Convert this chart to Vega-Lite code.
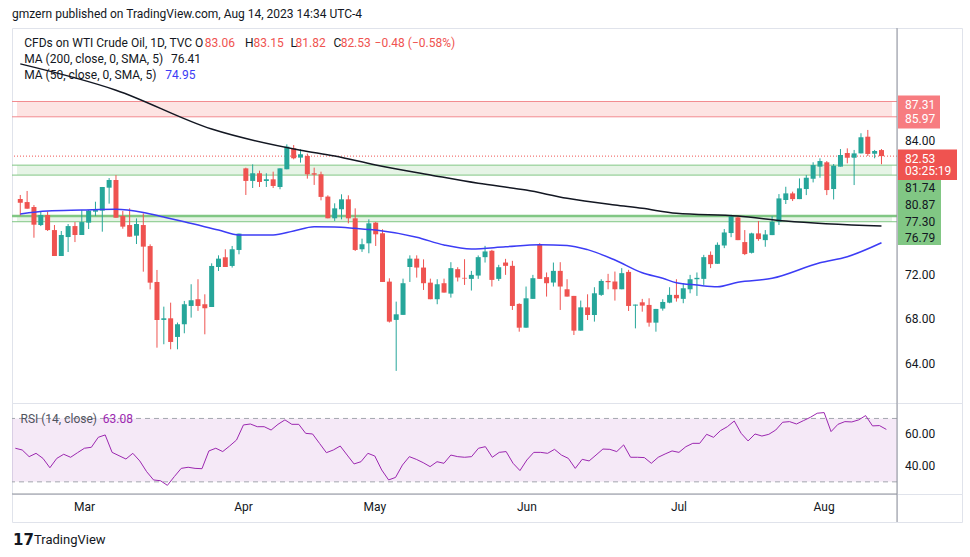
{
"$schema": "https://vega.github.io/schema/vega-lite/v6.json",
"background": "#ffffff",
"padding": {"left": 10, "right": 10, "top": 0, "bottom": 0},
"autosize": {"type": "pad"},
"columns": 2,
"spacing": 0,
"bounds": "flush",
"config": {"view": {"stroke": "#e0e3eb", "strokeWidth": 1}, "concat": {"spacing": 0}, "font": "Roboto", "text": {"font": "Roboto"}},
"datasets": {
"candles": [
{"i":1,"o":78.78,"h":79.13,"l":77.32,"c":78.45},{"i":2,"o":78.51,"h":79.48,"l":77.93,"c":77.93},{"i":3,"o":78.08,"h":78.25,"l":75.39,"c":76.53},{"i":4,"o":76.50,"h":77.73,"l":76.41,"c":77.38},{"i":5,"o":77.38,"h":77.67,"l":75.98,"c":76.06},{"i":6,"o":76.06,"h":76.50,"l":73.79,"c":73.79},{"i":7,"o":73.79,"h":75.98,"l":73.79,"c":75.63},{"i":8,"o":75.45,"h":76.59,"l":74.14,"c":76.41},{"i":9,"o":76.41,"h":76.76,"l":75.01,"c":75.63},{"i":10,"o":75.63,"h":77.81,"l":75.63,"c":76.76},
{"i":11,"o":76.71,"h":77.81,"l":76.15,"c":77.76},{"i":12,"o":77.67,"h":78.54,"l":77.29,"c":77.81},{"i":13,"o":77.76,"h":79.83,"l":75.92,"c":79.83},{"i":14,"o":79.77,"h":80.61,"l":78.37,"c":80.44},{"i":15,"o":80.44,"h":80.87,"l":77.14,"c":77.14},{"i":16,"o":77.29,"h":77.73,"l":76.18,"c":76.36},{"i":17,"o":76.50,"h":77.96,"l":75.48,"c":75.48},{"i":18,"o":75.57,"h":77.08,"l":74.84,"c":76.59},{"i":19,"o":76.50,"h":77.52,"l":72.42,"c":74.61},{"i":20,"o":74.66,"h":74.81,"l":70.87,"c":71.46},
{"i":21,"o":71.52,"h":72.57,"l":65.77,"c":68.19},{"i":22,"o":68.20,"h":69.36,"l":66.07,"c":68.34},{"i":23,"o":68.34,"h":69.71,"l":65.63,"c":66.27},{"i":24,"o":66.71,"h":67.97,"l":65.63,"c":67.82},{"i":25,"o":67.82,"h":69.86,"l":67.03,"c":69.57},{"i":26,"o":69.42,"h":71.32,"l":68.40,"c":69.92},{"i":27,"o":70.01,"h":71.76,"l":68.99,"c":69.42},{"i":28,"o":69.57,"h":70.44,"l":66.94,"c":69.22},{"i":29,"o":69.33,"h":73.15,"l":69.33,"c":72.92},{"i":30,"o":72.83,"h":73.85,"l":72.48,"c":73.56},
{"i":31,"o":73.68,"h":74.38,"l":72.83,"c":72.83},{"i":32,"o":72.92,"h":74.67,"l":72.78,"c":74.38},{"i":33,"o":74.32,"h":75.75,"l":73.94,"c":75.75},{"i":34,"o":81.46,"h":81.52,"l":79.13,"c":80.36},{"i":35,"o":80.36,"h":81.81,"l":79.74,"c":81.03},{"i":36,"o":81.03,"h":81.26,"l":79.83,"c":80.27},{"i":37,"o":80.36,"h":81.03,"l":79.83,"c":80.50},{"i":38,"o":80.50,"h":81.17,"l":79.74,"c":79.92},{"i":39,"o":79.83,"h":81.46,"l":79.63,"c":81.46},{"i":40,"o":81.38,"h":83.56,"l":81.38,"c":83.36},
{"i":41,"o":83.21,"h":83.50,"l":82.25,"c":82.34},{"i":42,"o":82.40,"h":83.13,"l":81.96,"c":82.69},{"i":43,"o":82.54,"h":82.75,"l":80.56,"c":80.94},{"i":44,"o":81.03,"h":81.52,"l":80.01,"c":80.91},{"i":45,"o":80.94,"h":81.17,"l":78.66,"c":78.96},{"i":46,"o":78.99,"h":79.10,"l":77.09,"c":77.09},{"i":47,"o":77.09,"h":78.40,"l":76.86,"c":77.96},{"i":48,"o":77.88,"h":79.19,"l":77.00,"c":78.75},{"i":49,"o":78.75,"h":79.10,"l":76.65,"c":77.09},{"i":50,"o":77.09,"h":77.96,"l":74.23,"c":74.32},
{"i":51,"o":74.38,"h":75.31,"l":74.15,"c":74.82},{"i":52,"o":74.90,"h":77.00,"l":74.03,"c":76.65},{"i":53,"o":76.71,"h":76.77,"l":74.67,"c":75.69},{"i":54,"o":75.78,"h":76.13,"l":71.52,"c":71.52},{"i":55,"o":71.55,"h":71.84,"l":67.97,"c":68.05},{"i":56,"o":68.20,"h":69.80,"l":63.74,"c":68.69},{"i":57,"o":68.64,"h":71.81,"l":68.64,"c":71.41},{"i":58,"o":72.83,"h":73.85,"l":71.52,"c":73.56},{"i":59,"o":73.56,"h":73.85,"l":71.90,"c":72.78},{"i":60,"o":72.78,"h":73.50,"l":70.82,"c":71.41},
{"i":61,"o":71.46,"h":71.81,"l":70.01,"c":70.01},{"i":62,"o":70.01,"h":71.76,"l":69.57,"c":71.32},{"i":63,"o":71.41,"h":71.81,"l":70.59,"c":70.59},{"i":64,"o":70.50,"h":73.25,"l":70.15,"c":72.73},{"i":65,"o":72.64,"h":72.81,"l":71.56,"c":71.91},{"i":66,"o":71.88,"h":73.51,"l":71.26,"c":71.82},{"i":67,"o":71.79,"h":72.49,"l":70.77,"c":72.14},{"i":68,"o":72.08,"h":73.84,"l":71.79,"c":73.69},{"i":69,"o":73.69,"h":74.68,"l":73.22,"c":74.19},{"i":70,"o":74.25,"h":74.33,"l":71.12,"c":71.70},
{"i":71,"o":71.79,"h":73.02,"l":71.61,"c":72.81},{"i":72,"o":73.22,"h":73.54,"l":72.14,"c":72.93},{"i":73,"o":72.93,"h":73.37,"l":69.07,"c":69.42},{"i":74,"o":69.60,"h":69.65,"l":67.17,"c":67.52},{"i":75,"o":67.52,"h":71.12,"l":67.52,"c":70.09},{"i":76,"o":70.04,"h":72.14,"l":70.04,"c":71.85},{"i":77,"o":74.77,"h":74.92,"l":71.79,"c":71.79},{"i":78,"o":71.94,"h":72.35,"l":70.24,"c":71.41},{"i":79,"o":71.47,"h":73.22,"l":71.12,"c":72.49},{"i":80,"o":72.49,"h":73.25,"l":69.07,"c":71.12},
{"i":81,"o":70.88,"h":71.76,"l":70.24,"c":70.24},{"i":82,"o":70.30,"h":70.30,"l":66.88,"c":67.26},{"i":83,"o":67.26,"h":69.89,"l":67.26,"c":69.30},{"i":84,"o":69.30,"h":70.44,"l":68.19,"c":68.63},{"i":85,"o":68.63,"h":71.06,"l":68.05,"c":70.53},{"i":86,"o":70.39,"h":71.76,"l":70.30,"c":71.61},{"i":87,"o":71.61,"h":72.23,"l":70.88,"c":71.50},{"i":88,"o":71.56,"h":72.43,"l":69.89,"c":70.88},{"i":89,"o":70.88,"h":72.73,"l":70.88,"c":72.29},{"i":90,"o":72.40,"h":72.58,"l":68.98,"c":69.42},
{"i":91,"o":69.45,"h":69.54,"l":67.46,"c":69.54},{"i":92,"o":69.74,"h":70.04,"l":68.92,"c":69.45},{"i":93,"o":69.51,"h":70.09,"l":67.61,"c":67.96},{"i":94,"o":67.96,"h":69.16,"l":67.17,"c":69.16},{"i":95,"o":69.19,"h":70.01,"l":69.01,"c":69.77},{"i":96,"o":69.71,"h":71.06,"l":69.66,"c":70.39},{"i":97,"o":70.39,"h":71.76,"l":69.80,"c":70.09},{"i":98,"o":70.04,"h":71.41,"l":69.66,"c":70.97},{"i":99,"o":70.88,"h":72.14,"l":70.53,"c":71.76},{"i":100,"o":71.76,"h":72.35,"l":70.30,"c":71.88},
{"i":101,"o":71.79,"h":73.89,"l":71.26,"c":73.69},{"i":102,"o":73.89,"h":74.19,"l":72.73,"c":73.08},{"i":103,"o":73.11,"h":74.98,"l":73.11,"c":74.77},{"i":104,"o":74.71,"h":76.15,"l":74.48,"c":75.85},{"i":105,"o":75.80,"h":77.40,"l":75.44,"c":77.26},{"i":106,"o":77.17,"h":77.28,"l":75.18,"c":75.18},{"i":107,"o":75.01,"h":76.06,"l":73.87,"c":73.96},{"i":108,"o":74.07,"h":75.83,"l":74.01,"c":75.77},{"i":109,"o":75.77,"h":76.85,"l":75.12,"c":75.27},{"i":110,"o":75.18,"h":76.06,"l":74.60,"c":75.68},
{"i":111,"o":75.62,"h":77.28,"l":75.62,"c":76.79},{"i":112,"o":76.79,"h":79.21,"l":76.50,"c":78.83},{"i":113,"o":78.69,"h":79.85,"l":78.34,"c":79.27},{"i":114,"o":79.27,"h":79.42,"l":78.60,"c":78.77},{"i":115,"o":78.77,"h":80.58,"l":78.77,"c":79.71},{"i":116,"o":79.65,"h":80.88,"l":79.12,"c":80.64},{"i":117,"o":80.55,"h":81.99,"l":80.23,"c":81.75},{"i":118,"o":81.61,"h":82.34,"l":80.64,"c":82.10},{"i":119,"o":81.99,"h":82.10,"l":79.12,"c":79.56},{"i":120,"o":79.65,"h":81.84,"l":78.74,"c":81.69},
{"i":121,"o":81.61,"h":83.15,"l":81.61,"c":82.63},{"i":122,"o":82.80,"h":83.21,"l":81.90,"c":82.39},{"i":123,"o":82.39,"h":83.07,"l":80.00,"c":82.77},{"i":124,"o":82.77,"h":84.53,"l":82.77,"c":84.18},{"i":125,"o":84.23,"h":84.82,"l":82.54,"c":82.72},{"i":126,"o":82.74,"h":83.07,"l":82.34,"c":82.98},{"i":127,"o":83.06,"h":83.15,"l":81.82,"c":82.53}
],
"ma200": [
{"i":1,"v":90.6},{"i":15,"v":88.3},{"i":29,"v":84.9},{"i":42,"v":83.05},{"i":47,"v":82.54},{"i":53,"v":81.75},{"i":61,"v":80.88},{"i":68,"v":80.15},{"i":75,"v":79.56},{"i":81,"v":78.84},{"i":88,"v":78.25},{"i":92,"v":77.96},{"i":97,"v":77.53},{"i":106,"v":77.29},{"i":113,"v":76.85},{"i":127,"v":76.41}
],
"ma50": [
{"i":1,"v":77.47},{"i":5,"v":77.73},{"i":10,"v":77.81},{"i":15,"v":77.88},{"i":19,"v":77.6},{"i":22,"v":77.2},{"i":25,"v":76.79},{"i":30,"v":76.06},{"i":33,"v":75.63},{"i":38,"v":75.63},{"i":41,"v":75.98},{"i":44,"v":76.35},{"i":47,"v":76.33},{"i":50,"v":76.21},{"i":53,"v":76.06},{"i":59,"v":75.43},{"i":63,"v":74.76},{"i":67,"v":74.41},{"i":72,"v":74.6},{"i":77,"v":74.78},{"i":81,"v":74.72},{"i":84,"v":74.35},{"i":88,"v":73.44},{"i":92,"v":72.33},{"i":95,"v":71.84},{"i":97,"v":71.45},{"i":100,"v":71.25},{"i":103,"v":71.1},{"i":106,"v":71.5},{"i":111,"v":71.84},{"i":118,"v":73.2},{"i":122,"v":73.73},{"i":127,"v":74.95}
],
"rsi": [
{"i":1,"r":51.2},{"i":2,"r":50.1},{"i":3,"r":45.9},{"i":4,"r":48},{"i":5,"r":44.8},{"i":6,"r":38.9},{"i":7,"r":44.8},{"i":8,"r":47.4},{"i":9,"r":45.5},{"i":10,"r":48.4},
{"i":11,"r":51.2},{"i":12,"r":51.8},{"i":13,"r":58.1},{"i":14,"r":59.6},{"i":15,"r":48.6},{"i":16,"r":46.5},{"i":17,"r":44.4},{"i":18,"r":48},{"i":19,"r":43.2},{"i":20,"r":36.4},
{"i":21,"r":31.2},{"i":22,"r":30.7},{"i":23,"r":27.8},{"i":24,"r":33.3},{"i":25,"r":38.5},{"i":26,"r":39.2},{"i":27,"r":38.5},{"i":28,"r":38.3},{"i":29,"r":49.5},{"i":30,"r":51.2},
{"i":31,"r":49.1},{"i":32,"r":52.6},{"i":33,"r":56.4},{"i":34,"r":65.9},{"i":35,"r":66.5},{"i":36,"r":64.8},{"i":37,"r":64.8},{"i":38,"r":62.7},{"i":39,"r":66.3},{"i":40,"r":69.1},
{"i":41,"r":66.3},{"i":42,"r":66.3},{"i":43,"r":60.6},{"i":44,"r":60.2},{"i":45,"r":54.3},{"i":46,"r":48.4},{"i":47,"r":50.1},{"i":48,"r":52.6},{"i":49,"r":46.9},{"i":50,"r":41.3},
{"i":51,"r":42.7},{"i":52,"r":48},{"i":53,"r":46.3},{"i":54,"r":37.5},{"i":55,"r":31.2},{"i":56,"r":32.8},{"i":57,"r":40.6},{"i":58,"r":45.9},{"i":59,"r":44.2},{"i":60,"r":42.1},
{"i":61,"r":39.6},{"i":62,"r":42.7},{"i":63,"r":41.7},{"i":64,"r":46.9},{"i":65,"r":45.9},{"i":66,"r":45.5},{"i":67,"r":45.9},{"i":68,"r":51.2},{"i":69,"r":52.2},{"i":70,"r":45.5},
{"i":71,"r":48.6},{"i":72,"r":49.1},{"i":73,"r":41.7},{"i":74,"r":37.1},{"i":75,"r":43.8},{"i":76,"r":48.6},{"i":77,"r":48.6},{"i":78,"r":48},{"i":79,"r":50.5},{"i":80,"r":46.9},
{"i":81,"r":44.8},{"i":82,"r":38.5},{"i":83,"r":44.2},{"i":84,"r":43.2},{"i":85,"r":46.9},{"i":86,"r":50.7},{"i":87,"r":50.5},{"i":88,"r":49.1},{"i":89,"r":53.3},{"i":90,"r":45.5},
{"i":91,"r":45.5},{"i":92,"r":45.3},{"i":93,"r":41.7},{"i":94,"r":45.5},{"i":95,"r":47.6},{"i":96,"r":49.5},{"i":97,"r":48.6},{"i":98,"r":52.2},{"i":99,"r":54.3},{"i":100,"r":54.3},
{"i":101,"r":60},{"i":102,"r":58.1},{"i":103,"r":62.3},{"i":104,"r":64.8},{"i":105,"r":68.4},{"i":106,"r":60.6},{"i":107,"r":55.8},{"i":108,"r":60.2},{"i":109,"r":58.9},{"i":110,"r":60},
{"i":111,"r":62.7},{"i":112,"r":67.6},{"i":113,"r":68},{"i":114,"r":66.5},{"i":115,"r":68.6},{"i":116,"r":70.7},{"i":117,"r":73.3},{"i":118,"r":73.7},{"i":119,"r":61.7},{"i":120,"r":66.3},
{"i":121,"r":68},{"i":122,"r":67.8},{"i":123,"r":69.1},{"i":124,"r":71.8},{"i":125,"r":65.3},{"i":126,"r":65.5},{"i":127,"r":63.08}
],
"zones": [
{"kind":"res","lo":85.97,"hi":87.31},{"kind":"sup","lo":80.87,"hi":81.74},{"kind":"sup","lo":76.79,"hi":77.30}
],
"months": [
{"i":11,"m":"Mar"},{"i":34,"m":"Apr"},{"i":53,"m":"May"},{"i":75,"m":"Jun"},{"i":97,"m":"Jul"},{"i":118,"m":"Aug"}
]
},
"concat": [
{
"width": 885, "height": 28, "view": {"stroke": null},
"data": {"values": [{"t": "gmzern published on TradingView.com, Aug 14, 2023 14:34 UTC-4"}]},
"mark": {"type": "text", "align": "left", "baseline": "middle", "fontSize": 12, "color": "#131722"},
"encoding": {
"x": {"datum": 0, "type": "quantitative", "scale": {"domain": [0, 885], "nice": false, "zero": false}, "axis": null},
"y": {"datum": 0.5, "type": "quantitative", "scale": {"domain": [0, 1], "nice": false}, "axis": null},
"text": {"field": "t"}
}
},
{
"width": 65, "height": 28, "view": {"stroke": null},
"data": {"values": [{}]},
"mark": {"type": "rule", "opacity": 0},
"encoding": {"x": {"datum": 0.5, "type": "quantitative", "scale": {"domain": [0, 1]}, "axis": null}, "y": {"datum": 0.2, "type": "quantitative", "scale": {"domain": [0, 1]}, "axis": null}, "y2": {"datum": 0.8}}
},
{
"width": 885, "height": 375,
"layer": [
{"data": {"name": "zones"}, "mark": {"type": "rect", "opacity": 0.14},
"encoding": {
"x": {"datum": 0.52, "type": "quantitative", "scale": {"domain": [0.52, 128.54], "nice": false, "zero": false}, "axis": {"grid": true, "values": [11, 34, 53, 75, 97, 118], "gridColor": "#f0f3fa", "labels": false, "ticks": false, "domain": false, "title": null}},
"x2": {"datum": 128.54},
"y": {"field": "lo", "type": "quantitative", "scale": {"domain": [60.93, 93.74], "nice": false, "zero": false}, "axis": {"grid": true, "values": [64, 68, 72, 76, 80, 84, 88, 92], "gridColor": "#f0f3fa", "labels": false, "ticks": false, "domain": false, "title": null}},
"y2": {"field": "hi"},
"color": {"condition": {"test": "datum.kind == 'res'", "value": "#f44336"}, "value": "#4caf50"}
}},
{"data": {"name": "zones"}, "mark": {"type": "rule"},
"encoding": {
"y": {"field": "hi", "type": "quantitative", "axis": null},
"color": {"condition": {"test": "datum.kind == 'res'", "value": "#f28b8f"}, "value": "#81c784"},
"strokeWidth": {"condition": {"test": "datum.hi == 77.3", "value": 2.5}, "value": 1}
}},
{"data": {"name": "zones"}, "mark": {"type": "rule", "strokeWidth": 1},
"encoding": {
"y": {"field": "lo", "type": "quantitative", "axis": null},
"color": {"condition": {"test": "datum.kind == 'res'", "value": "#f28b8f"}, "value": "#81c784"}
}},
{"data": {"name": "candles"}, "transform": [{"filter": "datum.i == 127"}], "mark": {"type": "rule", "color": "#ef5350", "strokeDash": [1, 2], "strokeWidth": 1},
"encoding": {"y": {"field": "c", "type": "quantitative", "axis": null}}},
{"data": {"name": "candles"}, "mark": {"type": "rule", "strokeWidth": 1},
"encoding": {
"x": {"field": "i", "type": "quantitative", "axis": null},
"y": {"field": "l", "type": "quantitative", "axis": null},
"y2": {"field": "h"},
"color": {"condition": {"test": "datum.c >= datum.o", "value": "#26a69a"}, "value": "#ef5350"}
}},
{"data": {"name": "candles"}, "mark": {"type": "bar", "size": 5},
"encoding": {
"x": {"field": "i", "type": "quantitative", "axis": null},
"y": {"field": "o", "type": "quantitative", "axis": null},
"y2": {"field": "c"},
"color": {"condition": {"test": "datum.c >= datum.o", "value": "#26a69a"}, "value": "#ef5350"}
}},
{"data": {"name": "ma200"}, "mark": {"type": "line", "color": "#131722", "strokeWidth": 1.5, "interpolate": "monotone", "clip": true},
"encoding": {"x": {"field": "i", "type": "quantitative", "axis": null}, "y": {"field": "v", "type": "quantitative", "axis": null}}},
{"data": {"name": "ma50"}, "mark": {"type": "line", "color": "#3c3cf5", "strokeWidth": 1.5, "interpolate": "monotone", "clip": true},
"encoding": {"x": {"field": "i", "type": "quantitative", "axis": null}, "y": {"field": "v", "type": "quantitative", "axis": null}}},
{"data": {"values": [{}]}, "mark": {"type": "text", "align": "left", "baseline": "middle", "fontSize": 12, "color": "#131722"},
"encoding": {"x": {"datum": 1.576, "type": "quantitative", "axis": null}, "y": {"datum": 92.45, "type": "quantitative", "axis": null}, "text": {"value": "CFDs on WTI Crude Oil, 1D, TVC"}}},
{"data": {"values": [{}]}, "mark": {"type": "text", "align": "left", "baseline": "middle", "fontSize": 12, "color": "#131722"},
"encoding": {"x": {"datum": 26.56, "type": "quantitative", "axis": null}, "y": {"datum": 92.45, "type": "quantitative", "axis": null}, "text": {"value": "O"}}},
{"data": {"values": [{}]}, "mark": {"type": "text", "align": "left", "baseline": "middle", "fontSize": 12, "color": "#ef5350"},
"encoding": {"x": {"datum": 28.0, "type": "quantitative", "axis": null}, "y": {"datum": 92.45, "type": "quantitative", "axis": null}, "text": {"value": "83.06"}}},
{"data": {"values": [{}]}, "mark": {"type": "text", "align": "left", "baseline": "middle", "fontSize": 12, "color": "#131722"},
"encoding": {"x": {"datum": 33.89, "type": "quantitative", "axis": null}, "y": {"datum": 92.45, "type": "quantitative", "axis": null}, "text": {"value": "H"}}},
{"data": {"values": [{}]}, "mark": {"type": "text", "align": "left", "baseline": "middle", "fontSize": 12, "color": "#ef5350"},
"encoding": {"x": {"datum": 35.14, "type": "quantitative", "axis": null}, "y": {"datum": 92.45, "type": "quantitative", "axis": null}, "text": {"value": "83.15"}}},
{"data": {"values": [{}]}, "mark": {"type": "text", "align": "left", "baseline": "middle", "fontSize": 12, "color": "#131722"},
"encoding": {"x": {"datum": 40.55, "type": "quantitative", "axis": null}, "y": {"datum": 92.45, "type": "quantitative", "axis": null}, "text": {"value": "L"}}},
{"data": {"values": [{}]}, "mark": {"type": "text", "align": "left", "baseline": "middle", "fontSize": 12, "color": "#ef5350"},
"encoding": {"x": {"datum": 41.27, "type": "quantitative", "axis": null}, "y": {"datum": 92.45, "type": "quantitative", "axis": null}, "text": {"value": "81.82"}}},
{"data": {"values": [{}]}, "mark": {"type": "text", "align": "left", "baseline": "middle", "fontSize": 12, "color": "#131722"},
"encoding": {"x": {"datum": 46.81, "type": "quantitative", "axis": null}, "y": {"datum": 92.45, "type": "quantitative", "axis": null}, "text": {"value": "C"}}},
{"data": {"values": [{}]}, "mark": {"type": "text", "align": "left", "baseline": "middle", "fontSize": 12, "color": "#ef5350"},
"encoding": {"x": {"datum": 47.87, "type": "quantitative", "axis": null}, "y": {"datum": 92.45, "type": "quantitative", "axis": null}, "text": {"value": "82.53"}}},
{"data": {"values": [{}]}, "mark": {"type": "text", "align": "left", "baseline": "middle", "fontSize": 12, "color": "#ef5350"},
"encoding": {"x": {"datum": 52.84, "type": "quantitative", "axis": null}, "y": {"datum": 92.45, "type": "quantitative", "axis": null}, "text": {"value": "−0.48 (−0.58%)"}}},
{"data": {"values": [{}]}, "mark": {"type": "text", "align": "left", "baseline": "middle", "fontSize": 12, "color": "#131722"},
"encoding": {"x": {"datum": 1.576, "type": "quantitative", "axis": null}, "y": {"datum": 91.03, "type": "quantitative", "axis": null}, "text": {"value": "MA (200, close, 0, SMA, 5)"}}},
{"data": {"values": [{}]}, "mark": {"type": "text", "align": "left", "baseline": "middle", "fontSize": 12, "color": "#131722"},
"encoding": {"x": {"datum": 23.04, "type": "quantitative", "axis": null}, "y": {"datum": 91.03, "type": "quantitative", "axis": null}, "text": {"value": "76.41"}}},
{"data": {"values": [{}]}, "mark": {"type": "text", "align": "left", "baseline": "middle", "fontSize": 12, "color": "#131722"},
"encoding": {"x": {"datum": 1.576, "type": "quantitative", "axis": null}, "y": {"datum": 89.63, "type": "quantitative", "axis": null}, "text": {"value": "MA (50, close, 0, SMA, 5)"}}},
{"data": {"values": [{}]}, "mark": {"type": "text", "align": "left", "baseline": "middle", "fontSize": 12, "color": "#3c3cf5"},
"encoding": {"x": {"datum": 22.22, "type": "quantitative", "axis": null}, "y": {"datum": 89.63, "type": "quantitative", "axis": null}, "text": {"value": "74.95"}}}
]
},
{
"width": 65, "height": 375,
"layer": [
{"data": {"values": [{"v": 64}, {"v": 68}, {"v": 72}, {"v": 84}]},
"mark": {"type": "text", "align": "left", "baseline": "middle", "fontSize": 12, "color": "#131722"},
"encoding": {
"x": {"datum": 8, "type": "quantitative", "scale": {"domain": [0, 65], "nice": false, "zero": false}, "axis": null},
"y": {"field": "v", "type": "quantitative", "scale": {"domain": [60.93, 93.74], "nice": false, "zero": false}, "axis": null},
"text": {"field": "v", "format": ".2f"}
}},
{"data": {"name": "zones"}, "transform": [{"filter": "datum.kind == 'res'"}, {"fold": ["hi", "lo"], "as": ["k", "lvl"]}],
"mark": {"type": "bar", "orient": "horizontal", "height": 18, "color": "#f77c80"},
"encoding": {"x": {"datum": 1, "type": "quantitative", "axis": null}, "x2": {"datum": 43}, "y": {"field": "lvl", "type": "quantitative", "axis": null}}},
{"data": {"name": "zones"}, "transform": [{"filter": "datum.kind == 'res'"}, {"fold": ["hi", "lo"], "as": ["k", "lvl"]}],
"mark": {"type": "text", "align": "left", "baseline": "middle", "fontSize": 12, "color": "#ffffff"},
"encoding": {"x": {"datum": 8, "type": "quantitative", "axis": null}, "y": {"field": "lvl", "type": "quantitative", "axis": null}, "text": {"field": "lvl", "format": ".2f"}}},
{"data": {"values": [{}]}, "mark": {"type": "bar", "color": "#ef5350"},
"encoding": {"x": {"datum": 1, "type": "quantitative", "axis": null}, "x2": {"datum": 60}, "y": {"datum": 83.27, "type": "quantitative", "axis": null}, "y2": {"datum": 80.53}}},
{"data": {"values": [{}]}, "mark": {"type": "bar", "color": "#81c784"},
"encoding": {"x": {"datum": 1, "type": "quantitative", "axis": null}, "x2": {"datum": 44}, "y": {"datum": 80.53, "type": "quantitative", "axis": null}, "y2": {"datum": 74.69}}},
{"data": {"name": "candles"}, "transform": [{"filter": "datum.i == 127"}],
"mark": {"type": "text", "align": "left", "baseline": "middle", "fontSize": 12, "color": "#ffffff"},
"encoding": {"x": {"datum": 8, "type": "quantitative", "axis": null}, "y": {"datum": 82.45, "type": "quantitative", "axis": null}, "text": {"field": "c", "format": ".2f"}}},
{"data": {"values": [{}]}, "mark": {"type": "text", "align": "left", "baseline": "middle", "fontSize": 12, "color": "#ffffff"},
"encoding": {"x": {"datum": 8, "type": "quantitative", "axis": null}, "y": {"datum": 81.32, "type": "quantitative", "axis": null}, "text": {"value": "03:25:19"}}},
{"data": {"values": [{}]}, "mark": {"type": "text", "align": "left", "baseline": "middle", "fontSize": 12, "color": "#131722"},
"encoding": {"x": {"datum": 8, "type": "quantitative", "axis": null}, "y": {"datum": 79.77, "type": "quantitative", "axis": null}, "text": {"value": "81.74"}}},
{"data": {"values": [{}]}, "mark": {"type": "text", "align": "left", "baseline": "middle", "fontSize": 12, "color": "#131722"},
"encoding": {"x": {"datum": 8, "type": "quantitative", "axis": null}, "y": {"datum": 78.32, "type": "quantitative", "axis": null}, "text": {"value": "80.87"}}},
{"data": {"values": [{}]}, "mark": {"type": "text", "align": "left", "baseline": "middle", "fontSize": 12, "color": "#131722"},
"encoding": {"x": {"datum": 8, "type": "quantitative", "axis": null}, "y": {"datum": 76.79, "type": "quantitative", "axis": null}, "text": {"value": "77.30"}}},
{"data": {"values": [{}]}, "mark": {"type": "text", "align": "left", "baseline": "middle", "fontSize": 12, "color": "#131722"},
"encoding": {"x": {"datum": 8, "type": "quantitative", "axis": null}, "y": {"datum": 75.34, "type": "quantitative", "axis": null}, "text": {"value": "76.79"}}},
{"data": {"values": [{}]}, "mark": {"type": "rule", "color": "#8f929b", "strokeWidth": 1},
"encoding": {"x": {"datum": 0, "type": "quantitative", "axis": null}}}
]
},
{
"width": 885, "height": 91,
"layer": [
{"data": {"values": [{"lo": 30, "hi": 70}]}, "mark": {"type": "rect", "color": "#9c27b0", "opacity": 0.1},
"encoding": {
"x": {"datum": 0.52, "type": "quantitative", "scale": {"domain": [0.52, 128.54], "nice": false, "zero": false}, "axis": {"grid": true, "values": [11, 34, 53, 75, 97, 118], "gridColor": "#f0f3fa", "labels": false, "ticks": false, "domain": false, "title": null}},
"x2": {"datum": 128.54},
"y": {"field": "lo", "type": "quantitative", "scale": {"domain": [22.33, 79.75], "nice": false, "zero": false}, "axis": {"grid": true, "values": [40, 60], "gridColor": "#f0f3fa", "labels": false, "ticks": false, "domain": false, "title": null}},
"y2": {"field": "hi"}
}},
{"data": {"values": [{"v": 30}, {"v": 70}]}, "mark": {"type": "rule", "color": "#a3a6af", "strokeDash": [5, 4], "strokeWidth": 1},
"encoding": {"y": {"field": "v", "type": "quantitative", "axis": null}}},
{"data": {"name": "rsi"}, "mark": {"type": "line", "color": "#9c27b0", "strokeWidth": 1},
"encoding": {"x": {"field": "i", "type": "quantitative", "axis": null}, "y": {"field": "r", "type": "quantitative", "axis": null}}},
{"data": {"values": [{}]}, "mark": {"type": "text", "align": "left", "baseline": "middle", "fontSize": 12, "color": "#50535e"},
"encoding": {"x": {"datum": 1.75, "type": "quantitative", "axis": null}, "y": {"datum": 69.46, "type": "quantitative", "axis": null}, "text": {"value": "RSI (14, close)"}}},
{"data": {"name": "rsi"}, "transform": [{"filter": "datum.i == 127"}], "mark": {"type": "text", "align": "left", "baseline": "middle", "fontSize": 12, "color": "#9c27b0"},
"encoding": {"x": {"datum": 13.65, "type": "quantitative", "axis": null}, "y": {"datum": 69.46, "type": "quantitative", "axis": null}, "text": {"field": "r", "format": ".2f"}}}
]
},
{
"width": 65, "height": 91,
"layer": [
{"data": {"values": [{"v": 40}, {"v": 60}]},
"mark": {"type": "text", "align": "left", "baseline": "middle", "fontSize": 12, "color": "#131722"},
"encoding": {
"x": {"datum": 8, "type": "quantitative", "scale": {"domain": [0, 65], "nice": false, "zero": false}, "axis": null},
"y": {"field": "v", "type": "quantitative", "scale": {"domain": [22.33, 79.75], "nice": false, "zero": false}, "axis": null},
"text": {"field": "v", "format": ".2f"}
}},
{"data": {"values": [{}]}, "mark": {"type": "rule", "color": "#8f929b", "strokeWidth": 1},
"encoding": {"x": {"datum": 0, "type": "quantitative", "axis": null}}}
]
},
{
"width": 885, "height": 28,
"layer": [
{"data": {"name": "months"}, "mark": {"type": "text", "align": "center", "baseline": "middle", "fontSize": 12, "color": "#131722"},
"encoding": {
"x": {"field": "i", "type": "quantitative", "scale": {"domain": [0.52, 128.54], "nice": false, "zero": false}, "axis": null},
"y": {"datum": 0.55, "type": "quantitative", "scale": {"domain": [0, 1], "nice": false}, "axis": null},
"text": {"field": "m"}
}},
{"data": {"values": [{}]}, "mark": {"type": "rule", "color": "#8f929b", "strokeWidth": 1},
"encoding": {"y": {"datum": 1, "type": "quantitative", "axis": null}}}
]
},
{
"width": 65, "height": 28,
"data": {"values": [{}]},
"mark": {"type": "rule", "color": "#8f929b", "strokeWidth": 1},
"encoding": {"x": {"datum": 0, "type": "quantitative", "scale": {"domain": [0, 65]}, "axis": null}}
},
{
"width": 885, "height": 35, "view": {"stroke": null},
"layer": [
{"data": {"values": [{}]}, "mark": {"type": "text", "align": "left", "baseline": "middle", "fontSize": 15, "fontWeight": 900, "font": "DejaVu Sans", "color": "#131722"},
"encoding": {
"x": {"datum": 1, "type": "quantitative", "scale": {"domain": [0, 885], "nice": false, "zero": false}, "axis": null},
"y": {"datum": 0.486, "type": "quantitative", "scale": {"domain": [0, 1], "nice": false}, "axis": null},
"text": {"value": "17"}
}},
{"data": {"values": [{}]}, "mark": {"type": "text", "align": "left", "baseline": "middle", "fontSize": 13, "color": "#131722"},
"encoding": {
"x": {"datum": 22, "type": "quantitative", "axis": null},
"y": {"datum": 0.486, "type": "quantitative", "axis": null},
"text": {"value": "TradingView"}
}}
]
},
{
"width": 65, "height": 35, "view": {"stroke": null},
"data": {"values": [{}]},
"mark": {"type": "rule", "opacity": 0},
"encoding": {"x": {"datum": 0.5, "type": "quantitative", "scale": {"domain": [0, 1]}, "axis": null}, "y": {"datum": 0.2, "type": "quantitative", "scale": {"domain": [0, 1]}, "axis": null}, "y2": {"datum": 0.8}}
}
]
}
